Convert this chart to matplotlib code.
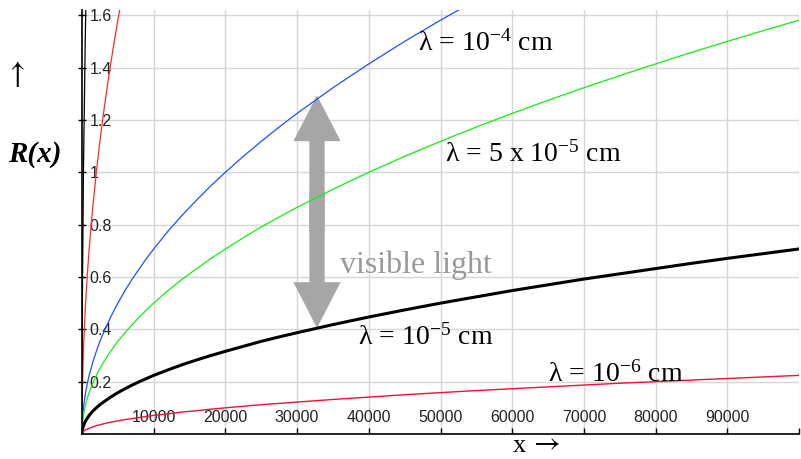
import matplotlib
matplotlib.use("Agg")
import matplotlib.pyplot as plt
from matplotlib.patches import FancyArrowPatch

plt.rcParams['font.family'] = ['Liberation Sans', 'DejaVu Sans']
plt.rcParams['mathtext.fontset'] = 'custom'
plt.rcParams['mathtext.rm'] = 'Liberation Serif'
plt.rcParams['mathtext.it'] = 'Liberation Serif:italic'

# values
x_main = [0, 50, 100, 250, 500, 750, 1000, 1500, 2000, 2500,
          3000, 4000, 5000, 6000, 7000, 8000, 9000, 10000,
          12000, 14000, 16000, 18000, 20000, 22500, 25000, 27500, 30000,
          35000, 40000, 45000, 50000, 55000, 60000, 65000, 70000, 75000,
          80000, 85000, 90000, 95000, 100000]
r_1e4 = [0, 0.05, 0.071, 0.112, 0.158, 0.194, 0.224, 0.274, 0.316, 0.354,
         0.387, 0.447, 0.5, 0.548, 0.592, 0.632, 0.671, 0.707,
         0.775, 0.837, 0.894, 0.949, 1.0, 1.061, 1.118, 1.173, 1.225,
         1.323, 1.414, 1.5, 1.581, 1.658, 1.732, 1.803, 1.871, 1.936,
         2.0, 2.062, 2.121, 2.179, 2.236]
r_5e5 = [0, 0.035, 0.05, 0.079, 0.112, 0.137, 0.158, 0.194, 0.224, 0.25,
         0.274, 0.316, 0.354, 0.387, 0.418, 0.447, 0.474, 0.5,
         0.548, 0.592, 0.632, 0.671, 0.707, 0.75, 0.791, 0.829, 0.866,
         0.935, 1.0, 1.061, 1.118, 1.173, 1.225, 1.275, 1.323, 1.369,
         1.414, 1.458, 1.5, 1.541, 1.581]
r_1e5 = [0, 0.016, 0.022, 0.035, 0.05, 0.061, 0.071, 0.087, 0.1, 0.112,
         0.122, 0.141, 0.158, 0.173, 0.187, 0.2, 0.212, 0.224,
         0.245, 0.265, 0.283, 0.3, 0.316, 0.335, 0.354, 0.371, 0.387,
         0.418, 0.447, 0.474, 0.5, 0.524, 0.548, 0.570, 0.592, 0.612,
         0.632, 0.652, 0.671, 0.689, 0.707]
r_1e6 = [0, 0.005, 0.007, 0.011, 0.016, 0.019, 0.022, 0.027, 0.032, 0.035,
         0.039, 0.045, 0.05, 0.055, 0.059, 0.063, 0.067, 0.071,
         0.077, 0.084, 0.089, 0.095, 0.1, 0.106, 0.112, 0.117, 0.122,
         0.132, 0.141, 0.15, 0.158, 0.166, 0.173, 0.18, 0.187, 0.194,
         0.2, 0.206, 0.212, 0.218, 0.224]
x_steep = [0, 5, 20, 50, 100, 200, 350, 500, 750, 1000, 1500, 2000, 2500,
           3000, 3500, 4000, 4500, 5000, 5500]
r_1e3 = [0, 0.05, 0.1, 0.158, 0.224, 0.316, 0.418, 0.5, 0.612, 0.707, 0.866, 1.0, 1.118,
         1.225, 1.323, 1.414, 1.5, 1.581, 1.658]
x_steeper = [0, 2, 10, 50, 200, 450, 600]
r_1e2 = [0, 0.1, 0.224, 0.5, 1.0, 1.5, 1.73]

x_ticks = [10000, 20000, 30000, 40000, 50000, 60000, 70000, 80000, 90000, 100000]
x_labels = ['10000', '20000', '30000', '40000', '50000', '60000', '70000', '80000', '90000', '']
y_ticks = [0.2, 0.4, 0.6, 0.8, 1.0, 1.2, 1.4, 1.6]
y_labels = ['0.2', '0.4', '0.6', '0.8', '1', '1.2', '1.4', '1.6']

fig = plt.figure(figsize=(8.01, 4.59), dpi=100)
ax = fig.add_axes([82 / 801, 25 / 459, 717 / 801, 424 / 459])
ax.set_xlim(0, 100000)
ax.set_ylim(0, 1.62)

ax.grid(True, color='#d6d6d6', lw=1.0)
ax.set_axisbelow(True)

ax.plot(x_steeper, r_1e2, color='black', lw=0.9)
ax.plot(x_steep, r_1e3, color='#ff2a2a', lw=0.9)
ax.plot(x_main, r_1e4, color='#1f4fff', lw=0.9)
ax.plot(x_main, r_5e5, color='#11ee11', lw=0.9)
ax.plot(x_main, r_1e5, color='black', lw=2.2)
ax.plot(x_main, r_1e6, color='#f0103a', lw=1.0)

for s in ['top', 'right']:
    ax.spines[s].set_visible(False)
for s in ['left', 'bottom']:
    ax.spines[s].set_linewidth(1.2)

ax.set_xticks(x_ticks)
ax.set_xticklabels(x_labels)
ax.set_yticks(y_ticks)
ax.set_yticklabels(y_labels)
ax.tick_params(axis='x', direction='in', length=4.5, width=1.0, pad=-17, labelsize=11.5,
               labelcolor='#222222')
ax.tick_params(axis='y', direction='inout', length=6, width=1.0, pad=-8.5, labelsize=11.5,
               labelcolor='#222222')
for lbl in ax.get_yticklabels():
    lbl.set_horizontalalignment('left')

# gray double arrow for visible light
arrow_x = 32775
top_y, bot_y = 1.294, 0.405
mid_y = (top_y + bot_y) / 2
for start, tip in ((mid_y - 0.08, top_y), (mid_y + 0.08, bot_y)):
    ax.add_patch(FancyArrowPatch((arrow_x, start), (arrow_x, tip),
                                 arrowstyle='simple,head_length=33,head_width=34,tail_width=11',
                                 mutation_scale=1, color='#a6a6a6', lw=0,
                                 shrinkA=0, shrinkB=0))

serif = ['Liberation Serif', 'DejaVu Serif']
ax.text(46862, 1.466, r'$\mathrm{\lambda\,=\,10^{-4}\ cm}$', fontsize=20, ha='left', va='baseline')
ax.text(50628, 1.039, r'$\mathrm{\lambda\,=\,5\ x\ 10^{-5}\ cm}$', fontsize=20, ha='left', va='baseline')
ax.text(38494, 0.34, r'$\mathrm{\lambda\,=\,10^{-5}\ cm}$', fontsize=20, ha='left', va='baseline')
ax.text(64993, 0.202, r'$\mathrm{\lambda\,=\,10^{-6}\ cm}$', fontsize=20, ha='left', va='baseline')
ax.text(35983, 0.615, 'visible light', family=serif, fontsize=23, color='#999999',
        ha='left', va='baseline')

arrows = ['STIXGeneral', 'DejaVu Serif']
fig.text(17 / 801, 1 - 75 / 459, '\u2191', family=arrows, fontsize=22, ha='center', va='center')
fig.text(35 / 801, 1 - 154 / 459, 'R(x)', family=serif, fontsize=21, fontweight='bold',
         fontstyle='italic', ha='center', va='center')
fig.text(519 / 801, 1 - 446 / 459, 'x', family=serif, fontsize=19, ha='center', va='center')
fig.text(548 / 801, 1 - 445 / 459, '\u2192', family=arrows, fontsize=21, ha='center', va='center')

fig.savefig('out.png', dpi=100)
